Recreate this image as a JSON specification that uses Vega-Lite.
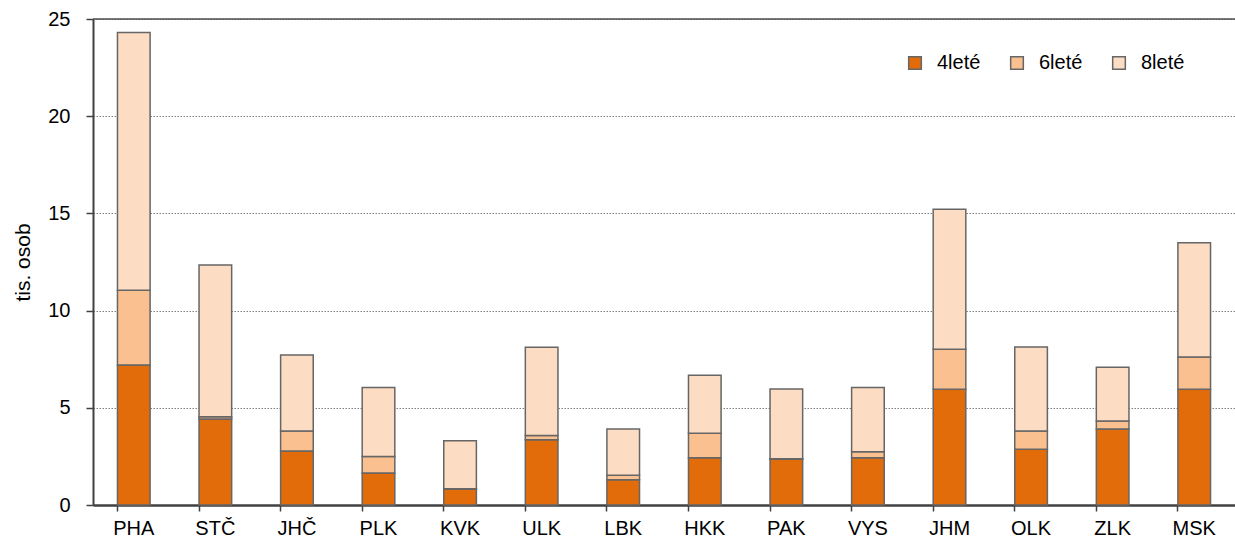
{
  "$schema": "https://vega.github.io/schema/vega-lite/v6.json",
  "width": 1142,
  "height": 486,
  "autosize": {"type": "none"},
  "padding": {"left": 93, "top": 19, "right": 0, "bottom": 36},
  "background": "white",
  "config": {
    "font": "Liberation Sans",
    "view": {"stroke": null}
  },
  "data": {
    "values": [
      {"kraj": "PHA", "typ": "4leté", "v": 7.2}, {"kraj": "PHA", "typ": "6leté", "v": 3.85}, {"kraj": "PHA", "typ": "8leté", "v": 13.25},
      {"kraj": "STČ", "typ": "4leté", "v": 4.42}, {"kraj": "STČ", "typ": "6leté", "v": 0.12}, {"kraj": "STČ", "typ": "8leté", "v": 7.81},
      {"kraj": "JHČ", "typ": "4leté", "v": 2.78}, {"kraj": "JHČ", "typ": "6leté", "v": 1.03}, {"kraj": "JHČ", "typ": "8leté", "v": 3.91},
      {"kraj": "PLK", "typ": "4leté", "v": 1.65}, {"kraj": "PLK", "typ": "6leté", "v": 0.84}, {"kraj": "PLK", "typ": "8leté", "v": 3.56},
      {"kraj": "KVK", "typ": "4leté", "v": 0.82}, {"kraj": "KVK", "typ": "6leté", "v": 0.02}, {"kraj": "KVK", "typ": "8leté", "v": 2.46},
      {"kraj": "ULK", "typ": "4leté", "v": 3.36}, {"kraj": "ULK", "typ": "6leté", "v": 0.22}, {"kraj": "ULK", "typ": "8leté", "v": 4.53},
      {"kraj": "LBK", "typ": "4leté", "v": 1.3}, {"kraj": "LBK", "typ": "6leté", "v": 0.23}, {"kraj": "LBK", "typ": "8leté", "v": 2.38},
      {"kraj": "HKK", "typ": "4leté", "v": 2.43}, {"kraj": "HKK", "typ": "6leté", "v": 1.26}, {"kraj": "HKK", "typ": "8leté", "v": 2.98},
      {"kraj": "PAK", "typ": "4leté", "v": 2.35}, {"kraj": "PAK", "typ": "6leté", "v": 0.03}, {"kraj": "PAK", "typ": "8leté", "v": 3.59},
      {"kraj": "VYS", "typ": "4leté", "v": 2.43}, {"kraj": "VYS", "typ": "6leté", "v": 0.31}, {"kraj": "VYS", "typ": "8leté", "v": 3.31},
      {"kraj": "JHM", "typ": "4leté", "v": 5.95}, {"kraj": "JHM", "typ": "6leté", "v": 2.06}, {"kraj": "JHM", "typ": "8leté", "v": 7.2},
      {"kraj": "OLK", "typ": "4leté", "v": 2.87}, {"kraj": "OLK", "typ": "6leté", "v": 0.94}, {"kraj": "OLK", "typ": "8leté", "v": 4.32},
      {"kraj": "ZLK", "typ": "4leté", "v": 3.91}, {"kraj": "ZLK", "typ": "6leté", "v": 0.41}, {"kraj": "ZLK", "typ": "8leté", "v": 2.76},
      {"kraj": "MSK", "typ": "4leté", "v": 5.95}, {"kraj": "MSK", "typ": "6leté", "v": 1.66}, {"kraj": "MSK", "typ": "8leté", "v": 5.88}
    ]
  },
  "layer": [
    {
      "mark": {"type": "bar", "stroke": "#666666", "strokeWidth": 1.5},
      "encoding": {
        "x": {
          "field": "kraj", "type": "nominal", "sort": null,
          "scale": {"paddingInner": 0.6, "paddingOuter": 0.3},
          "axis": {
            "title": null, "labelAngle": 0, "labelFontSize": 20, "labelColor": "#000000",
            "labelPadding": 7, "bandPosition": 0, "tickSize": 6, "tickColor": "#404040",
            "tickWidth": 1.5, "domainColor": "#404040", "domainWidth": 2.5, "grid": false
          }
        },
        "y": {
          "field": "v", "type": "quantitative", "aggregate": "sum", "stack": "zero",
          "scale": {"domain": [0, 25], "nice": false},
          "axis": {
            "title": "tis. osob", "titleFontSize": 21, "titleFontWeight": "normal", "titleColor": "#000000",
            "titlePadding": 14, "values": [0, 5, 10, 15, 20, 25], "labelFontSize": 20, "labelColor": "#000000",
            "labelPadding": 16, "tickSize": 7, "tickColor": "#404040", "tickWidth": 1.5,
            "domainColor": "#404040", "domainWidth": 2, "gridColor": "#808080", "gridDash": [1.5, 1.5], "gridWidth": 1
          }
        },
        "order": {"field": "typ", "sort": "ascending"},
        "color": {
          "field": "typ", "type": "nominal",
          "scale": {"domain": ["4leté", "6leté", "8leté"], "range": ["#E36C0A", "#FAC090", "#FCDDC3"]},
          "legend": {
            "title": null, "orient": "none", "direction": "horizontal", "legendX": 812, "legendY": 34,
            "labelFontSize": 20, "labelColor": "#000000", "symbolType": "square", "symbolSize": 160,
            "symbolStrokeColor": "#666666", "symbolStrokeWidth": 1.5, "symbolOpacity": 1,
            "columnPadding": 26, "labelOffset": 12
          }
        }
      }
    },
    {
      "data": {"values": [{"y": 25}]},
      "mark": {"type": "rule", "color": "#4d4d4d", "strokeWidth": 1.5},
      "encoding": {"y": {"field": "y", "type": "quantitative"}}
    }
  ]
}
